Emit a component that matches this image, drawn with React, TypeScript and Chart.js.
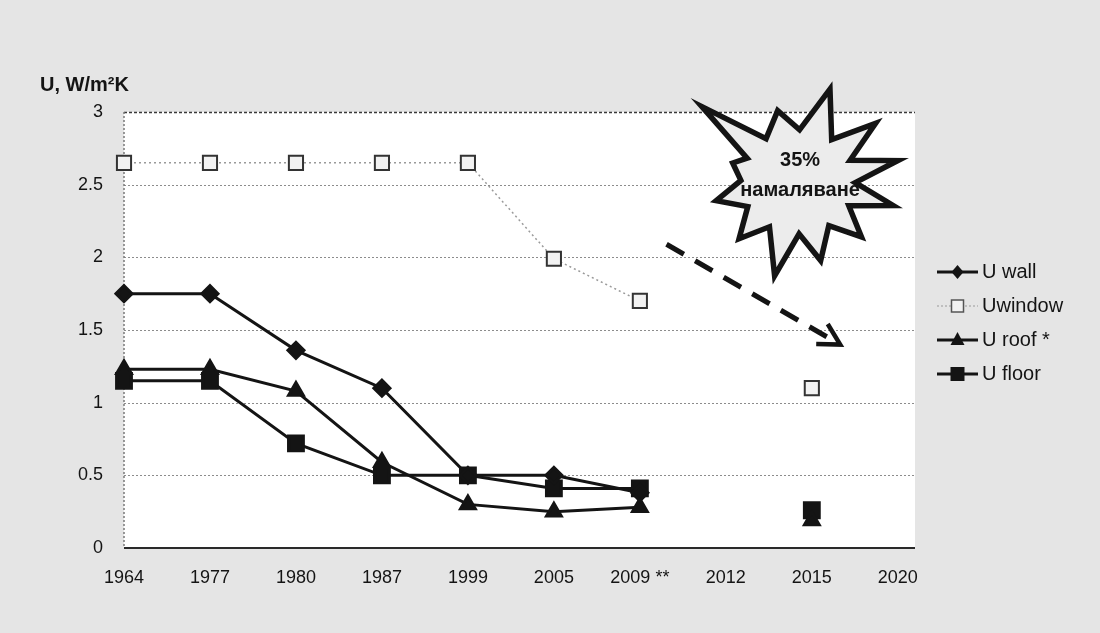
import React, { useEffect, useRef } from 'react';
import { Chart, registerables } from 'chart.js';

Chart.register(...registerables);

// ---- data ----
const years = ['1964', '1977', '1980', '1987', '1999', '2005', '2009 **', '2012', '2015', '2020'];
const uWall = [1.75, 1.75, 1.36, 1.1, 0.5, 0.5, 0.38, null, null, null];
const uWindow = [2.65, 2.65, 2.65, 2.65, 2.65, 1.99, 1.7, null, 1.1, null];
const uRoof = [1.23, 1.23, 1.08, 0.59, 0.3, 0.25, 0.28, null, 0.19, null];
const uFloor = [1.15, 1.15, 0.72, 0.5, 0.5, 0.41, 0.41, null, 0.26, null];
const yTicks = [0, 0.5, 1, 1.5, 2, 2.5, 3];
const yTitle = 'U, W/m²K';
const burstLines = ['35%', 'намаляване'];
const legendLabels = ['U wall', 'Uwindow', 'U roof *', 'U floor'];

const FONT = '"Liberation Sans", Arial, sans-serif';
const INK = '#141414';

export default function App() {
  const ref = useRef<HTMLCanvasElement>(null);

  useEffect(() => {
    const canvas = ref.current;
    if (!canvas) return;
    const toPts = (arr: (number | null)[]) => arr.map((v, i) => ({ x: i, y: v }));

    const decor = {
      id: 'decor',
      beforeDraw(chart: any) {
        const { ctx, chartArea: a, width, height } = chart;
        ctx.save();
        ctx.fillStyle = '#e5e5e5';
        ctx.fillRect(0, 0, width, height);
        ctx.fillStyle = '#ffffff';
        ctx.fillRect(a.left, a.top, a.right - a.left, a.bottom - a.top);
        ctx.restore();
      },
      beforeDatasetsDraw(chart: any) {
        const { ctx, chartArea: a } = chart;
        const ys = chart.scales.y;
        ctx.save();
        yTicks.forEach((v) => {
          if (v === 0) return;
          const py = Math.round(ys.getPixelForValue(v)) + 0.5;
          const top = v === yTicks[yTicks.length - 1];
          ctx.setLineDash(top ? [3, 2] : [2, 2]);
          ctx.strokeStyle = top ? '#3a3a3a' : '#8c8c8c';
          ctx.lineWidth = top ? 1.6 : 1;
          ctx.beginPath();
          ctx.moveTo(a.left, py);
          ctx.lineTo(a.right, py);
          ctx.stroke();
        });
        // y axis (dotted)
        ctx.setLineDash([2, 2]);
        ctx.strokeStyle = '#7a7a7a';
        ctx.lineWidth = 1.5;
        ctx.beginPath();
        ctx.moveTo(a.left, a.top);
        ctx.lineTo(a.left, a.bottom);
        ctx.stroke();
        // x axis (solid)
        ctx.setLineDash([]);
        ctx.strokeStyle = '#2a2a2a';
        ctx.lineWidth = 2;
        const y0 = ys.getPixelForValue(0);
        ctx.beginPath();
        ctx.moveTo(a.left, y0);
        ctx.lineTo(a.right, y0);
        ctx.stroke();
        ctx.restore();
      },
      afterDatasetsDraw(chart: any) {
        const { ctx, chartArea: a } = chart;
        const xs = chart.scales.x;
        const ys = chart.scales.y;
        ctx.save();

        // ---- starburst ----
        const cx = xs.getPixelForValue(7.84);
        const cy = ys.getPixelForValue(2.52);
        const outer: [number, number][] = [
          [-71, 98], [-37, 97], [-12, 102], [14, 98], [41, 84], [74, 82],
          [104, 97], [136, 82], [167, 84], [196, 68], [218, 122], [254, 74],
        ];
        const inner = 52;
        ctx.beginPath();
        outer.forEach(([ang, r], i) => {
          const next = outer[(i + 1) % outer.length];
          let a2 = next[0];
          if (a2 < ang) a2 += 360;
          const mid = ((ang + a2) / 2) * Math.PI / 180;
          const ar = ang * Math.PI / 180;
          const px = cx + Math.cos(ar) * r;
          const py = cy + Math.sin(ar) * r;
          if (i === 0) ctx.moveTo(px, py); else ctx.lineTo(px, py);
          ctx.lineTo(cx + Math.cos(mid) * inner * 1.1, cy + Math.sin(mid) * inner);
        });
        ctx.closePath();
        ctx.fillStyle = '#ececec';
        ctx.fill();
        ctx.lineJoin = 'miter';
        ctx.lineWidth = 5.5;
        ctx.strokeStyle = INK;
        ctx.stroke();

        ctx.fillStyle = INK;
        ctx.font = `bold 20px ${FONT}`;
        ctx.textAlign = 'center';
        ctx.textBaseline = 'middle';
        ctx.fillText(burstLines[0], cx + 2, cy - 21);
        ctx.fillText(burstLines[1], cx + 2, cy + 9);

        // ---- dashed arrow ----
        const sx = xs.getPixelForValue(6.31);
        const sy = ys.getPixelForValue(2.09);
        const ex = xs.getPixelForValue(8.33);
        const ey = ys.getPixelForValue(1.4);
        const ang = Math.atan2(ey - sy, ex - sx);
        ctx.lineWidth = 5;
        ctx.lineCap = 'butt';
        ctx.setLineDash([20, 13]);
        ctx.beginPath();
        ctx.moveTo(sx, sy);
        ctx.lineTo(ex - Math.cos(ang) * 6, ey - Math.sin(ang) * 6);
        ctx.stroke();
        ctx.setLineDash([]);
        ctx.lineWidth = 4.5;
        ctx.beginPath();
        const hl = 24;
        ctx.moveTo(ex - Math.cos(ang - 0.5) * hl, ey - Math.sin(ang - 0.5) * hl);
        ctx.lineTo(ex, ey);
        ctx.lineTo(ex - Math.cos(ang + 0.5) * hl, ey - Math.sin(ang + 0.5) * hl);
        ctx.stroke();

        // ---- legend ----
        const lx0 = a.right + 22;
        const lx1 = a.right + 63;
        const tx = a.right + 67;
        const rows = [272, 306, 340, 374];
        ctx.font = `20px ${FONT}`;
        ctx.textAlign = 'left';
        ctx.textBaseline = 'middle';
        rows.forEach((ry, i) => {
          const mx = (lx0 + lx1) / 2;
          if (i === 1) {
            ctx.setLineDash([2, 2]);
            ctx.strokeStyle = '#9a9a9a';
            ctx.lineWidth = 1.2;
            ctx.beginPath();
            ctx.moveTo(lx0, ry);
            ctx.lineTo(lx1, ry);
            ctx.stroke();
            ctx.setLineDash([]);
            ctx.fillStyle = '#f2f2f2';
            ctx.fillRect(mx - 6, ry - 6, 12, 12);
            ctx.strokeStyle = '#555';
            ctx.lineWidth = 1.5;
            ctx.strokeRect(mx - 6, ry - 6, 12, 12);
          } else {
            ctx.strokeStyle = INK;
            ctx.lineWidth = 3;
            ctx.beginPath();
            ctx.moveTo(lx0, ry);
            ctx.lineTo(lx1, ry);
            ctx.stroke();
            ctx.fillStyle = INK;
            ctx.beginPath();
            if (i === 0) {
              ctx.moveTo(mx, ry - 7);
              ctx.lineTo(mx + 6, ry);
              ctx.lineTo(mx, ry + 7);
              ctx.lineTo(mx - 6, ry);
            } else if (i === 2) {
              ctx.moveTo(mx, ry - 8);
              ctx.lineTo(mx + 7, ry + 5);
              ctx.lineTo(mx - 7, ry + 5);
            } else {
              ctx.rect(mx - 7, ry - 7, 14, 14);
            }
            ctx.closePath();
            ctx.fill();
          }
          ctx.fillStyle = INK;
          ctx.fillText(legendLabels[i], tx, ry);
        });

        // ---- y axis title ----
        ctx.font = `bold 20px ${FONT}`;
        ctx.textAlign = 'left';
        ctx.textBaseline = 'middle';
        ctx.fillText(yTitle, 40, ys.getPixelForValue(3) - 27);
        ctx.restore();
      },
    };

    const chart = new Chart(canvas, {
      type: 'line',
      data: {
        datasets: [
          {
            label: legendLabels[0],
            data: toPts(uWall),
            borderColor: INK,
            backgroundColor: INK,
            borderWidth: 3,
            pointStyle: 'rectRot',
            pointRadius: 8,
            pointBackgroundColor: INK,
            pointBorderColor: INK,
            spanGaps: false,
            clip: false,
          },
          {
            label: legendLabels[1],
            data: toPts(uWindow),
            borderColor: '#9a9a9a',
            borderWidth: 1.5,
            borderDash: [2, 3],
            pointStyle: 'rect',
            pointRadius: 10,
            pointBorderWidth: 2,
            pointBackgroundColor: '#f2f2f2',
            pointBorderColor: '#333',
            spanGaps: false,
            clip: false,
          },
          {
            label: legendLabels[2],
            data: toPts(uRoof),
            borderColor: INK,
            borderWidth: 3,
            pointStyle: 'triangle',
            pointRadius: 8.5,
            pointBackgroundColor: INK,
            pointBorderColor: INK,
            spanGaps: false,
            clip: false,
          },
          {
            label: legendLabels[3],
            data: toPts(uFloor),
            borderColor: INK,
            borderWidth: 3,
            pointStyle: 'rect',
            pointRadius: 10.5,
            pointBackgroundColor: INK,
            pointBorderColor: INK,
            spanGaps: false,
            clip: false,
          },
        ],
      },
      options: {
        responsive: false,
        animation: false,
        devicePixelRatio: 1,
        layout: { padding: { top: 112, right: 185, left: 0, bottom: 0 } },
        elements: { line: { tension: 0 } },
        plugins: { legend: { display: false }, tooltip: { enabled: false } },
        scales: {
          x: {
            type: 'linear',
            min: 0,
            max: 9.2,
            grid: { display: false, drawTicks: false },
            border: { display: false },
            ticks: {
              stepSize: 1,
              includeBounds: false,
              autoSkip: false,
              maxRotation: 0,
              minRotation: 0,
              padding: 19,
              color: INK,
              font: { family: FONT, size: 18 },
              callback: (v: any) => years[Math.round(Number(v))] ?? '',
            },
            afterFit: (s: any) => {
              s.height = 85;
            },
          },
          y: {
            min: 0,
            max: 3,
            grid: { display: false, drawTicks: false },
            border: { display: false },
            ticks: {
              stepSize: 0.5,
              padding: 21,
              color: INK,
              font: { family: FONT, size: 18 },
              callback: (v: any) => String(Number(v)),
            },
            afterFit: (s: any) => {
              s.width = 124;
            },
          },
        },
      },
      plugins: [decor],
    } as any);

    return () => chart.destroy();
  }, []);

  return (
    <div style={{ position: 'absolute', left: 0, top: 0, width: 1100, height: 633 }}>
      <canvas ref={ref} width={1100} height={633} style={{ display: 'block', width: 1100, height: 633 }} />
    </div>
  );
}
